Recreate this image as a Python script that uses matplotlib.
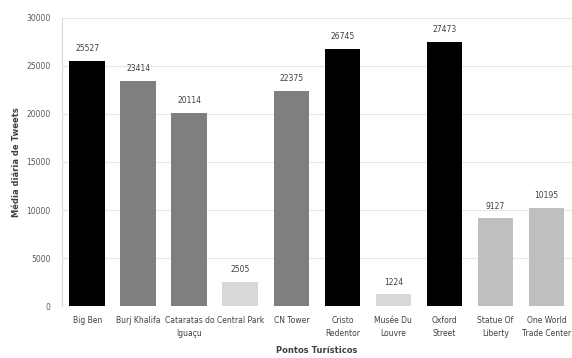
import numpy as np
import matplotlib.pyplot as plt

# Average daily tweets per tourist spot
pontos = ["Big Ben", "Burj Khalifa", "Cataratas do\nIguaçu", "Central Park", "CN Tower",
          "Cristo\nRedentor", "Musée Du\nLouvre", "Oxford\nStreet", "Statue Of\nLiberty",
          "One World\nTrade Center"]
media = [25527, 23414, 20114, 2505, 22375, 26745, 1224, 27473, 9127, 10195]
cores = ["#000000", "#7f7f7f", "#7f7f7f", "#d9d9d9", "#7f7f7f",
         "#000000", "#d9d9d9", "#000000", "#bfbfbf", "#bfbfbf"]

fig = plt.figure(figsize=(5.72, 3.58), dpi=100)
ax = fig.add_axes([0.108, 0.145, 0.892, 0.805])

x = np.arange(len(pontos))
ax.bar(x, media, width=0.7, color=cores, zorder=3)

for xi, v in zip(x, media):
    ax.text(xi, v + 800, str(v), ha='center', va='bottom', fontsize=5.5, color='#404040')

ax.set_xlim(-0.5, len(pontos) - 0.5)
ax.set_ylim(0, 30000)
ax.set_yticks(np.arange(0, 30001, 5000))
ax.set_xticks(x)
ax.set_xticklabels(pontos, fontsize=5.5, color='#404040', linespacing=1.6)
ax.tick_params(axis='y', labelsize=5.5, colors='#595959', length=0, pad=8)
ax.tick_params(axis='x', length=0, pad=7)
ax.grid(axis='y', color='#e6e6e6', linewidth=0.8, zorder=0)

for s in ['top', 'right', 'bottom']:
    ax.spines[s].set_visible(False)
ax.spines['left'].set_color('#d9d9d9')

ax.set_ylabel('Média diária de Tweets', fontsize=6, fontweight='bold', color='#404040', labelpad=4)
ax.set_xlabel('Pontos Turísticos', fontsize=6, fontweight='bold', color='#404040', labelpad=6)

fig.savefig('out.png', dpi=100)
